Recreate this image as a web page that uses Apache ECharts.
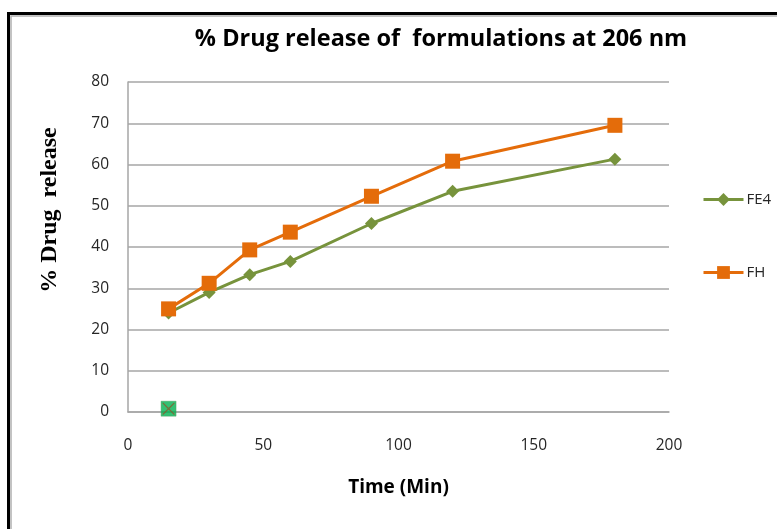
<!DOCTYPE html>
<html>
<head>
<meta charset="utf-8">
<script src="https://cdn.jsdelivr.net/npm/echarts@6/dist/echarts.min.js"></script>
<style>
html,body{margin:0;padding:0;background:#fff;}
#c{width:777px;height:529px;}
</style>
</head>
<body>
<div id="c"></div>
<script>
const timeMin = [15, 30, 45, 60, 90, 120, 180];
const fe4 = [24.0, 29.0, 33.3, 36.5, 45.7, 53.5, 61.3];
const fh = [25.0, 31.2, 39.3, 43.6, 52.3, 60.8, 69.5];
const strayPoint = [[15, 0.8]];
const xTicks = [0, 50, 100, 150, 200];
const yTicks = [0, 10, 20, 30, 40, 50, 60, 70, 80];

const chart = echarts.init(document.getElementById('c'));
const pairs = (xs, ys) => xs.map((x, i) => [x, ys[i]]);
const FONT = '"Open Sans", Lato, sans-serif';
const labelFont = {fontFamily: FONT, fontSize: 15.5, color: '#262626'};
const legendBase = {left: 697, itemWidth: 40, itemHeight: 16, itemGap: 4,
  lineStyle: {width: 3},
  textStyle: {fontFamily: FONT, fontSize: 15, color: '#262626', padding: [0,0,0,-2]}};

chart.setOption({
  animation: false,
  backgroundColor: '#ffffff',
  title: {
    text: '% Drug release of  formulations at 206 nm',
    left: 436, top: 22, textAlign: 'center',
    textStyle: {fontFamily: FONT, fontWeight: 'bold', fontSize: 23.5, color: '#000'}
  },
  legend: [
    Object.assign({data: [{name: 'FE4'}], top: 187}, legendBase),
    Object.assign({data: [{name: 'FH'}], top: 260}, legendBase)
  ],
  grid: {left: 128, right: 108, top: 82, bottom: 117},
  xAxis: {
    type: 'value', min: xTicks[0], max: xTicks[xTicks.length-1], interval: 50,
    name: 'Time (Min)', nameLocation: 'middle', nameGap: 66,
    nameTextStyle: {fontFamily: FONT, fontWeight: 'bold', fontSize: 19, color: '#000'},
    axisLine: {show: true, lineStyle: {color: '#A6A6A6', width: 1.5}},
    axisTick: {show: false},
    splitLine: {show: false},
    axisLabel: Object.assign({margin: 26}, labelFont)
  },
  yAxis: {
    type: 'value', min: yTicks[0], max: yTicks[yTicks.length-1], interval: 10,
    axisLine: {show: true, lineStyle: {color: '#A6A6A6', width: 1.5}},
    axisTick: {show: false},
    splitLine: {show: true, lineStyle: {color: '#A6A6A6', width: 1.5}},
    axisLabel: Object.assign({margin: 19}, labelFont)
  },
  series: [
    {name: 'FE4', type: 'line', data: pairs(timeMin, fe4), symbol: 'diamond', symbolSize: 13,
     lineStyle: {color: '#77933C', width: 3}, itemStyle: {color: '#77933C'}, z: 3},
    {name: 'FH', type: 'line', data: pairs(timeMin, fh), symbol: 'rect', symbolSize: 15,
     lineStyle: {color: '#E46C0A', width: 3}, itemStyle: {color: '#E46C0A'}, z: 4},
    {name: 'stray', type: 'scatter', data: strayPoint, symbol: 'rect', symbolSize: 15,
     itemStyle: {color: '#00B050', borderColor: '#4E9A5A', borderWidth: 0.5}, z: 5},
    {name: 'strayX', type: 'scatter', data: strayPoint,
     symbol: 'path://M0,0L1.5,0L10,8.5L18.5,0L20,0L20,1.5L11.5,10L20,18.5L20,20L18.5,20L10,11.5L1.5,20L0,20L0,18.5L8.5,10L0,1.5Z',
     symbolSize: 12, itemStyle: {color: '#8A5A2E'}, z: 6}
  ],
  graphic: [
    {type: 'text', x: 50, y: 210, rotation: Math.PI / 2,
     style: {text: '% Drug  release', fill: '#000', align: 'center', verticalAlign: 'middle',
             font: 'bold 24px "Liberation Serif", "Times New Roman", serif'}},
    {type: 'rect', shape: {x: 8.5, y: 13.5, width: 800, height: 560}, style: {fill: 'none', stroke: '#000', lineWidth: 3}, z: 100},
    {type: 'rect', shape: {x: 11, y: 16, width: 800, height: 560}, style: {fill: 'none', stroke: '#B0B0B0', lineWidth: 1.5}, z: 100}
  ]
});
</script>
</body>
</html>
